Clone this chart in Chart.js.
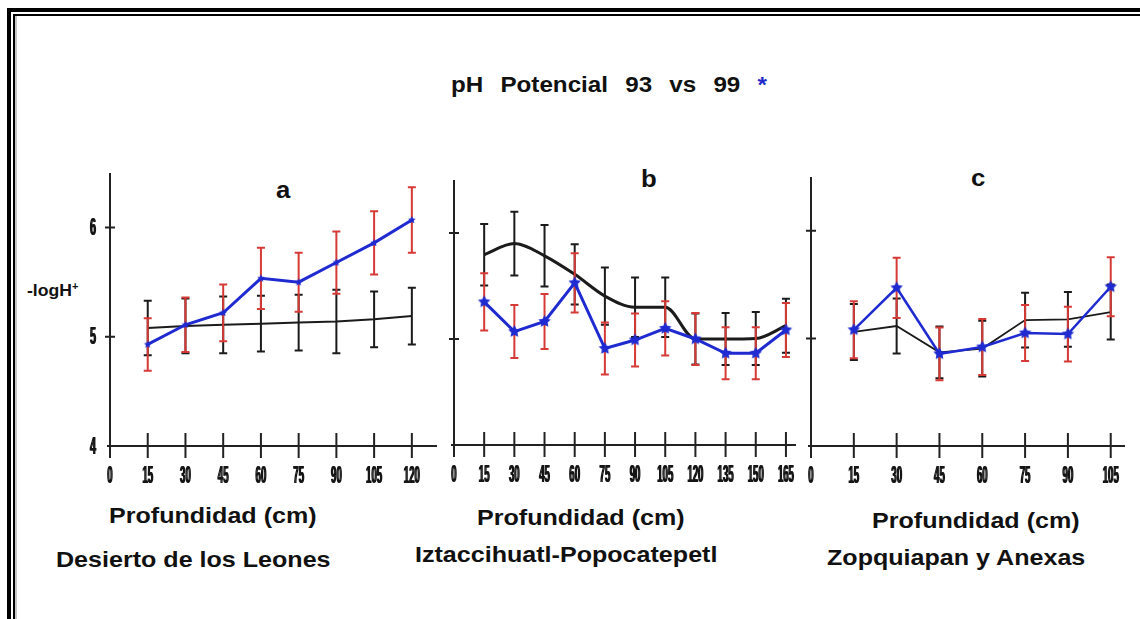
<!DOCTYPE html>
<html>
<head>
<meta charset="utf-8">
<script src="https://cdn.jsdelivr.net/npm/chart.js@4.4.1/dist/chart.umd.min.js"></script>
<style>
  html, body { margin: 0; padding: 0; background: #fff; }
  body { width: 1140px; height: 619px; position: relative; overflow: hidden;
         font-family: "Liberation Sans", Arial, sans-serif; font-weight: bold; color: #111; }
  .rule { position: absolute; background: #000; }
  .txt { position: absolute; white-space: pre; line-height: 1; transform-origin: 0 0; }
  canvas { position: absolute; }
</style>
</head>
<body>
<!-- double frame -->
<div class="rule" style="left:7px;top:8px;width:1133px;height:4px"></div>
<div class="rule" style="left:7px;top:8px;width:4px;height:611px"></div>
<div class="rule" style="left:13px;top:14px;width:1127px;height:2px"></div>
<div class="rule" style="left:13px;top:14px;width:2px;height:605px"></div>
<div class="rule" style="left:15px;top:16px;width:2px;height:603px;background:#c8c8c8"></div>

<div class="txt" style="left:451px;top:74px;font-size:22px;word-spacing:9.5px;transform:scaleX(1.1)">pH Potencial 93 vs 99 <span style="color:#1f2bc8">*</span></div>

<div class="txt" style="left:27px;top:282px;font-size:16px;transform:scaleX(1.1)">-logH<sup style="font-size:10px;vertical-align:6px">+</sup></div>

<div class="txt" style="left:276px;top:179px;font-size:23px;transform:scaleX(1.12)">a</div>
<div class="txt" style="left:641px;top:168px;font-size:23px;transform:scaleX(1.12)">b</div>
<div class="txt" style="left:971px;top:167px;font-size:23px;transform:scaleX(1.12)">c</div>

<div class="txt" style="left:109px;top:505px;font-size:22px;transform:scaleX(1.14)">Profundidad (cm)</div>
<div class="txt" style="left:477px;top:507px;font-size:22px;transform:scaleX(1.14)">Profundidad (cm)</div>
<div class="txt" style="left:872px;top:510px;font-size:22px;transform:scaleX(1.14)">Profundidad (cm)</div>

<div class="txt" style="left:56px;top:549px;font-size:22px;transform:scaleX(1.14)">Desierto de los Leones</div>
<div class="txt" style="left:415px;top:544px;font-size:22px;transform:scaleX(1.14)">Iztaccihuatl-Popocatepetl</div>
<div class="txt" style="left:827px;top:547px;font-size:22px;transform:scaleX(1.14)">Zopquiapan y Anexas</div>

<canvas id="chartA" width="380" height="330" style="left:70px;top:160px"></canvas>
<canvas id="chartB" width="370" height="325" style="left:440px;top:165px"></canvas>
<canvas id="chartC" width="340" height="325" style="left:795px;top:165px"></canvas>

<script>
// ---- Desierto de los Leones (a) ----
const depthA   = [15, 30, 45, 60, 75, 90, 105, 120];
const phA93    = [5.08, 5.10, 5.11, 5.12, 5.13, 5.14, 5.16, 5.19];
const errA93   = [0.25, 0.25, 0.26, 0.255, 0.255, 0.29, 0.255, 0.26];
const phA99    = [4.93, 5.11, 5.22, 5.535, 5.50, 5.68, 5.86, 6.07];
const errA99   = [0.24, 0.25, 0.26, 0.28, 0.27, 0.285, 0.29, 0.30];
const xTicksA  = [0, 15, 30, 45, 60, 75, 90, 105, 120];

// ---- Iztaccihuatl-Popocatepetl (b) ----
const depthB   = [15, 30, 45, 60, 75, 90, 105, 120, 135, 150, 165];
const phB93    = [5.795, 5.90, 5.785, 5.61, 5.405, 5.30, 5.30, 5.00, 5.00, 5.005, 5.125];
const errB93   = [0.29, 0.30, 0.29, 0.285, 0.27, 0.28, 0.28, 0.24, 0.245, 0.25, 0.255];
const phB99    = [5.35, 5.07, 5.165, 5.53, 4.91, 4.99, 5.10, 5.00, 4.865, 4.865, 5.085];
const errB99   = [0.27, 0.25, 0.26, 0.28, 0.245, 0.25, 0.255, 0.245, 0.245, 0.245, 0.255];
const xTicksB  = [0, 15, 30, 45, 60, 75, 90, 105, 120, 135, 150, 165];

// ---- Zopquiapan y Anexas (c) ----
const depthC   = [15, 30, 45, 60, 75, 90, 105];
const phC93    = [5.06, 5.115, 4.87, 4.905, 5.17, 5.177, 5.245];
const errC93   = [0.26, 0.255, 0.24, 0.26, 0.255, 0.255, 0.255];
const phC99    = [5.08, 5.47, 4.857, 4.92, 5.05, 5.04, 5.48];
const errC99   = [0.265, 0.28, 0.245, 0.26, 0.26, 0.255, 0.275];
const xTicksC  = [0, 15, 30, 45, 60, 75, 90, 105];

const yTicks   = [4, 5, 6];

const BLUE = '#1f2bd0';
const RED  = '#d63a36';
const INK  = '#1b1b1b';

function starImage(r, color) {
  const c = document.createElement('canvas');
  const s = Math.ceil(r * 2 + 2);
  c.width = s; c.height = s;
  const g = c.getContext('2d');
  g.translate(s / 2, s / 2);
  g.beginPath();
  for (let i = 0; i < 10; i++) {
    const rad = i % 2 === 0 ? r : r * 0.5;
    const a = -Math.PI / 2 + i * Math.PI / 5;
    g.lineTo(Math.cos(a) * rad, Math.sin(a) * rad);
  }
  g.closePath();
  g.fillStyle = color;
  g.fill();
  return c;
}

function pts(xs, ys) { return xs.map((x, i) => ({ x: x, y: ys[i] })); }

// error bars drawn just before their own series
const errorBars = {
  id: 'errorBars',
  beforeDatasetDraw(chart, args) {
    const ds = chart.data.datasets[args.index];
    if (!ds.errors) return;
    const xs = chart.scales.x, ys = chart.scales.y, ctx = chart.ctx;
    ctx.save();
    ctx.strokeStyle = ds.errorColor;
    ctx.lineWidth = 2;
    ds.data.forEach((p, i) => {
      const px = xs.getPixelForValue(p.x);
      const t = ys.getPixelForValue(p.y + ds.errors[i]);
      const b = ys.getPixelForValue(p.y - ds.errors[i]);
      ctx.beginPath();
      ctx.moveTo(px, t); ctx.lineTo(px, b);
      ctx.moveTo(px - 4, t); ctx.lineTo(px + 4, t);
      ctx.moveTo(px - 4, b); ctx.lineTo(px + 4, b);
      ctx.stroke();
    });
    ctx.restore();
  }
};

// axes with crossing tick marks and narrow tick labels
const crossAxes = {
  id: 'crossAxes',
  beforeDatasetsDraw(chart, args, opts) {
    const xs = chart.scales.x, ys = chart.scales.y, ctx = chart.ctx;
    const x0 = xs.getPixelForValue(xs.min);
    const y0 = ys.getPixelForValue(ys.min);
    ctx.save();
    ctx.strokeStyle = '#222';
    ctx.lineWidth = 2;
    ctx.beginPath();
    ctx.moveTo(x0, ys.getPixelForValue(ys.max));
    ctx.lineTo(x0, y0 + 12);
    ctx.moveTo(x0 - 3, y0);
    ctx.lineTo(xs.getPixelForValue(xs.max), y0);
    opts.xTicks.forEach(v => {
      const px = xs.getPixelForValue(v);
      ctx.moveTo(px, y0 - 13); ctx.lineTo(px, y0 + 12);
    });
    yTicks.forEach(v => {
      if (v === ys.min) return;
      const py = ys.getPixelForValue(v);
      ctx.moveTo(x0 - 5, py); ctx.lineTo(x0 + 5, py);
    });
    ctx.stroke();

    ctx.fillStyle = '#151515';
    ctx.font = 'bold 24px "Liberation Sans", Arial, sans-serif';
    ctx.textAlign = 'center';
    ctx.textBaseline = 'middle';
    // condensed labels, drawn twice side by side for heavier strokes
    const narrow = (txt, x, y, sx) => {
      [-0.5, 0.5].forEach(dx => {
        ctx.save();
        ctx.translate(x + dx, y);
        ctx.scale(sx, 1);
        ctx.fillText(txt, 0, 0);
        ctx.restore();
      });
    };
    opts.xTicks.forEach(v => narrow(String(v), xs.getPixelForValue(v), y0 + 30, 0.4));
    if (opts.yLabels) {
      yTicks.forEach(v => narrow(String(v), x0 - 17, ys.getPixelForValue(v) + 1, 0.45));
    }
    ctx.restore();
  }
};

function makeChart(id, pad, xMax, xs, p93, e93, p99, e99, ticks, look) {
  return new Chart(document.getElementById(id), {
    type: 'line',
    data: {
      datasets: [
        {
          data: pts(xs, p99), errors: e99, errorColor: RED,
          borderColor: BLUE, borderWidth: look.blueWidth,
          pointStyle: starImage(look.starR, BLUE), pointRadius: look.starR,
          tension: 0, clip: false
        },
        {
          data: pts(xs, p93), errors: e93, errorColor: INK,
          borderColor: INK, borderWidth: look.blackWidth,
          pointRadius: 0, cubicInterpolationMode: look.blackCurve, clip: false
        }
      ]
    },
    options: {
      responsive: false,
      animation: false,
      devicePixelRatio: 1,
      layout: { padding: pad },
      plugins: {
        legend: { display: false },
        tooltip: { enabled: false },
        crossAxes: { xTicks: ticks, yLabels: look.yLabels }
      },
      scales: {
        x: { type: 'linear', min: 0, max: xMax, display: false },
        y: { type: 'linear', min: 4, max: 6.5, display: false }
      }
    },
    plugins: [errorBars, crossAxes]
  });
}

makeChart('chartA', { left: 40, top: 13, right: 13, bottom: 44 }, 130,
  depthA, phA93, errA93, phA99, errA99, xTicksA,
  { blueWidth: 3, blackWidth: 2, starR: 4, blackCurve: 'default', yLabels: true });

makeChart('chartB', { left: 14, top: 15, right: 14, bottom: 45 }, 170,
  depthB, phB93, errB93, phB99, errB99, xTicksB,
  { blueWidth: 3, blackWidth: 3, starR: 6.5, blackCurve: 'monotone', yLabels: false });

makeChart('chartC', { left: 16, top: 12, right: 10, bottom: 44 }, 110,
  depthC, phC93, errC93, phC99, errC99, xTicksC,
  { blueWidth: 2.5, blackWidth: 1.8, starR: 6.5, blackCurve: 'default', yLabels: false });
</script>
</body>
</html>
